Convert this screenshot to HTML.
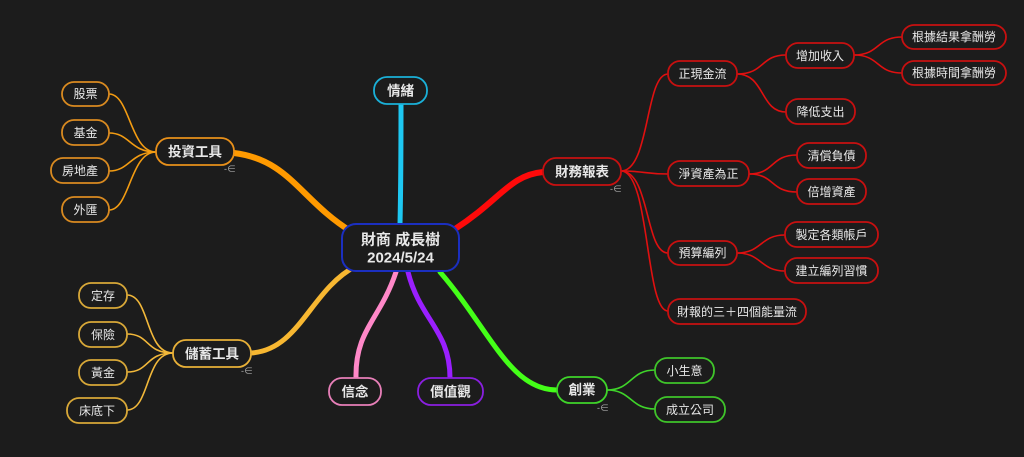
<!DOCTYPE html>
<html><head><meta charset="utf-8"><style>
html,body{margin:0;padding:0;background:#1c1c1c;}
svg{display:block}
text{font-family:"Liberation Sans","Noto Sans CJK TC",sans-serif;fill:#e8e8e8;text-anchor:middle;dominant-baseline:central}
.c{font-size:12px}
.m{font-size:13.5px;font-weight:bold}
.ic{font-size:9px;fill:#aaa}
</style></head><body>
<svg width="1024" height="457" viewBox="0 0 1024 457" xmlns="http://www.w3.org/2000/svg">
<rect width="1024" height="457" fill="#1c1c1c"/>
<!-- thick branches -->
<g fill="none" stroke-linecap="round">
<path d="M352,232 C300,200 290,160 234,153" stroke="#ff9a00" stroke-width="6"/>
<path d="M356,266 C310,290 300,350 251,353" stroke="#f7b731" stroke-width="5"/>
<path d="M400,224 C401,180 401,140 401,104" stroke="#1ec8f2" stroke-width="5"/>
<path d="M455,229 C500,200 510,175 543,172" stroke="#ff0a0a" stroke-width="6"/>
<path d="M396,272 C380,320 355,330 356,378" stroke="#ff88c8" stroke-width="5"/>
<path d="M408,272 C420,320 450,330 450,378" stroke="#9a1fff" stroke-width="5"/>
<path d="M440,272 C490,330 510,390 557,390" stroke="#44ff18" stroke-width="5"/>
</g>
<!-- child connectors -->
<g fill="none" stroke-width="1.6">
<g stroke="#e01010">
<path d="M621,171 C650,171 645,74 668,74"/>
<path d="M621,171 C645,171 645,174 668,174"/>
<path d="M621,171 C650,171 645,253 668,253"/>
<path d="M621,171 C650,171 645,311 668,311"/>
<path d="M737,74 C765,74 760,55 786,55"/>
<path d="M737,74 C765,74 760,112 786,112"/>
<path d="M854,55 C880,55 876,37 902,37"/>
<path d="M854,55 C880,55 876,73 902,73"/>
<path d="M749,174 C775,174 770,155 797,155"/>
<path d="M749,174 C775,174 770,192 797,192"/>
<path d="M737,253 C762,253 760,235 785,235"/>
<path d="M737,253 C762,253 760,271 785,271"/>
</g>
<g stroke="#f39c12">
<path d="M156,152 C130,152 130,94 109,94"/>
<path d="M156,152 C130,152 130,133 109,133"/>
<path d="M156,152 C130,152 130,171 109,171"/>
<path d="M156,152 C130,152 130,210 109,210"/>
</g>
<g stroke="#f2b83a">
<path d="M173,353 C145,353 150,295 127,295"/>
<path d="M173,353 C145,353 150,334 127,334"/>
<path d="M173,353 C145,353 150,372 127,372"/>
<path d="M173,353 C145,353 150,410 127,410"/>
</g>
<g stroke="#3fd42a">
<path d="M607,390 C632,390 630,370 655,370"/>
<path d="M607,390 C632,390 630,409 655,409"/>
</g>
</g>
<!-- nodes -->
<g fill="#1c1c1c" stroke-width="1.8">
<rect x="342" y="224" width="117" height="47" rx="14" stroke="#1b2fc0" stroke-width="2"/>
<rect x="374" y="77" width="53" height="27" rx="13" stroke="#1ab0d8"/>
<rect x="329" y="378" width="52" height="27" rx="13" stroke="#e77fb8"/>
<rect x="418" y="378" width="65" height="27" rx="13" stroke="#8a1fe0"/>
<rect x="557" y="377" width="50" height="26" rx="13" stroke="#3fd42a"/>
<rect x="543" y="158" width="78" height="27" rx="13" stroke="#c81010"/>
<rect x="156" y="138" width="78" height="27" rx="13" stroke="#e8901a"/>
<rect x="173" y="340" width="78" height="27" rx="13" stroke="#e8b038"/>
<g stroke="#c81010">
<rect x="668" y="61" width="69" height="25" rx="12"/>
<rect x="786" y="43" width="68" height="25" rx="12"/>
<rect x="902" y="25" width="104" height="24" rx="12"/>
<rect x="902" y="61" width="104" height="24" rx="12"/>
<rect x="786" y="99" width="69" height="25" rx="12"/>
<rect x="668" y="161" width="81" height="25" rx="12"/>
<rect x="797" y="143" width="69" height="25" rx="12"/>
<rect x="797" y="179" width="69" height="25" rx="12"/>
<rect x="668" y="241" width="69" height="24" rx="12"/>
<rect x="785" y="222" width="93" height="25" rx="12"/>
<rect x="785" y="258" width="93" height="25" rx="12"/>
<rect x="668" y="299" width="138" height="25" rx="12"/>
</g>
<g stroke="#d98a20">
<rect x="62" y="82" width="47" height="24" rx="12"/>
<rect x="62" y="120" width="47" height="25" rx="12"/>
<rect x="51" y="158" width="58" height="25" rx="12"/>
<rect x="62" y="197" width="47" height="25" rx="12"/>
</g>
<g stroke="#d8a838">
<rect x="79" y="283" width="48" height="25" rx="12"/>
<rect x="79" y="322" width="48" height="25" rx="12"/>
<rect x="79" y="360" width="48" height="25" rx="12"/>
<rect x="67" y="398" width="60" height="25" rx="12"/>
</g>
<g stroke="#3fc42a">
<rect x="655" y="358" width="59" height="25" rx="12"/>
<rect x="655" y="397" width="70" height="25" rx="12"/>
</g>
</g>
<!-- text -->
<text x="400.5" y="240" style="font-size:15px;font-weight:bold">財商 成長樹</text>
<text x="400.5" y="258" style="font-size:15px;font-weight:bold">2024/5/24</text>
<text class="m" x="400.5" y="91">情緒</text>
<text class="m" x="355" y="392">信念</text>
<text class="m" x="450.5" y="392">價值觀</text>
<text class="m" x="582" y="390">創業</text>
<text class="m" x="582" y="172">財務報表</text>
<text class="m" x="195" y="152">投資工具</text>
<text class="m" x="212" y="354">儲蓄工具</text>
<text class="c" x="702.5" y="74">正現金流</text>
<text class="c" x="820" y="56">增加收入</text>
<text class="c" x="954" y="37">根據結果拿酬勞</text>
<text class="c" x="954" y="73">根據時間拿酬勞</text>
<text class="c" x="820.5" y="112">降低支出</text>
<text class="c" x="708.5" y="174">淨資產為正</text>
<text class="c" x="831.5" y="156">清償負債</text>
<text class="c" x="831.5" y="192">倍增資產</text>
<text class="c" x="702.5" y="253">預算編列</text>
<text class="c" x="831.5" y="235">製定各類帳戶</text>
<text class="c" x="831.5" y="271">建立編列習慣</text>
<text class="c" x="737" y="312">財報的三＋四個能量流</text>
<text class="c" x="85.5" y="94">股票</text>
<text class="c" x="85.5" y="133">基金</text>
<text class="c" x="80" y="171">房地產</text>
<text class="c" x="85.5" y="210">外匯</text>
<text class="c" x="103" y="296">定存</text>
<text class="c" x="103" y="335">保險</text>
<text class="c" x="103" y="373">黃金</text>
<text class="c" x="97" y="411">床底下</text>
<text class="c" x="684.5" y="371">小生意</text>
<text class="c" x="690" y="410">成立公司</text>
<text class="ic" x="230" y="169">-∈</text>
<text class="ic" x="616" y="189">-∈</text>
<text class="ic" x="247" y="371">-∈</text>
<text class="ic" x="603" y="408">-∈</text>
</svg>
</body></html>
